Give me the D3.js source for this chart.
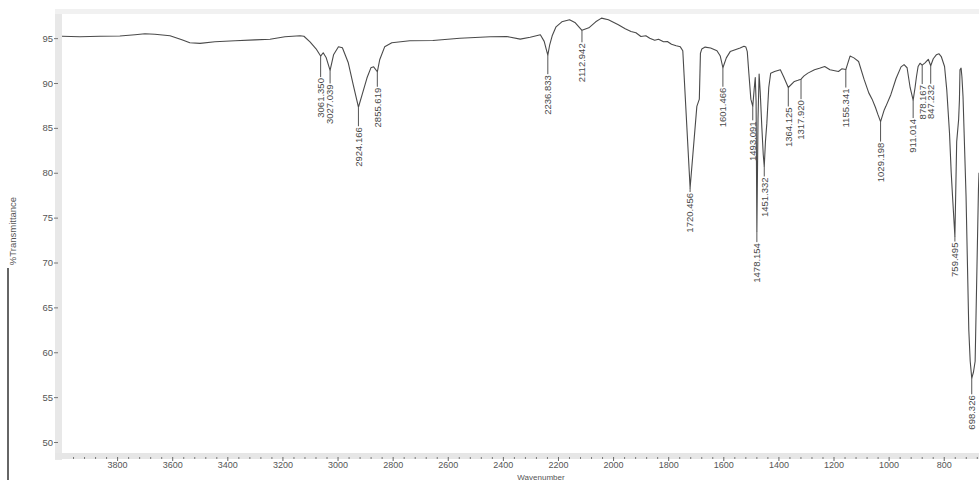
<!DOCTYPE html>
<html>
<head>
<meta charset="utf-8">
<script src="https://cdn.jsdelivr.net/npm/d3@7"></script>
<style>
  body { margin: 0; background: #fff; }
  svg { display: block; font-family: "Liberation Sans", Arial, sans-serif; }
</style>
</head>
<body>
<svg id="chart" width="979" height="480"></svg>
<script>
// spectrum, wavenumber (cm-1) and %T
var wavenumber = [4000, 3935, 3862, 3790, 3735, 3699, 3663, 3608, 3565, 3536, 3499, 3445, 3372, 3300, 3245, 3191, 3136, 3122, 3100, 3078,
    3061.35, 3052, 3041, 3027.039, 3014.5, 2996.7, 2982.4, 2961, 2943, 2924.166, 2911, 2893, 2879, 2869, 2855.619, 2847, 2829, 2803,
    2738, 2654, 2556, 2446, 2386, 2337, 2301, 2264, 2250, 2242, 2236.833, 2230, 2221, 2207, 2186, 2158, 2137, 2112.942, 2088, 2063,
    2042, 2017, 1999, 1981, 1956, 1935, 1917, 1899, 1881, 1867, 1849, 1835, 1817, 1803, 1788, 1771, 1756, 1747, 1720.456, 1696, 1687,
    1683, 1678, 1666, 1646, 1623, 1611, 1601.466, 1589, 1575, 1557, 1539, 1525, 1518, 1513, 1507, 1500, 1493.091, 1488, 1484, 1481,
    1478.154, 1474, 1470, 1466, 1460, 1455, 1451.332, 1447, 1442, 1435, 1428, 1414, 1393, 1381, 1364.125, 1342, 1329, 1317.92, 1307,
    1293, 1269, 1251, 1232, 1213, 1182, 1170, 1155.341, 1140, 1126, 1109, 1089, 1072, 1060, 1048, 1039, 1029.198, 1016, 1010, 992,
    973, 955, 944, 933, 922, 911.014, 904, 899, 893, 886, 878.167, 868, 856, 847.232, 838, 827, 817, 809, 797, 789, 779, 773, 768,
    759.495, 753, 746, 743, 741, 737, 734, 730, 719, 709, 704, 698.326, 692, 686, 674, 672]
var transmittance = [95.21, 95.15, 95.21, 95.23, 95.37, 95.48, 95.43, 95.26, 94.81, 94.48, 94.42, 94.59, 94.70, 94.81, 94.87, 95.15, 95.26, 95.21, 94.59, 93.81,
    93.0, 93.37, 92.81, 91.4, 93.14, 94.03, 93.92, 92.25, 89.8, 87.3, 88.68, 90.58, 91.69, 91.8, 91.25, 92.59, 94.03, 94.48,
    94.70, 94.74, 94.98, 95.15, 95.18, 94.89, 95.09, 95.37, 94.64, 93.7, 93.1, 94.26, 95.26, 96.26, 96.82, 97.04, 96.71, 95.87, 96.15, 96.82,
    97.23, 97.04, 96.77, 96.49, 96.04, 95.74, 95.6, 95.18, 95.26, 94.98, 94.76, 94.87, 94.59, 94.62, 94.31, 94.15, 94.03, 93.59, 78.3, 87.4, 88.2,
    93.3, 93.8, 94.0, 93.9, 93.6, 93.0, 91.7, 92.8, 93.5, 93.7, 93.9, 94.1, 94.0, 93.5, 91.0, 88.2, 87.4, 89.3, 90.6, 88.0,
    73.5, 86.0, 91.0, 89.0, 85.0, 82.0, 80.7, 83.5, 85.5, 89.5, 91.1, 91.28, 91.47, 90.7, 89.5, 90.17, 90.3, 90.43, 90.8,
    91.1, 91.47, 91.64, 91.84, 91.47, 91.28, 91.58, 91.5, 93.0, 92.8, 92.4, 90.4, 88.9, 88.2, 87.3, 86.5, 85.7, 87.0, 87.4, 88.7,
    90.5, 91.8, 92.05, 91.7, 89.5, 88.1, 89.5, 90.7, 91.84, 92.2, 92.0, 92.25, 92.64, 91.92, 92.7, 93.14, 93.25, 92.95, 91.84, 89.24, 84.41, 80.1, 77.35,
    72.89, 83.44, 85.9, 88.13, 91.47, 91.66, 90.69, 88.49, 77.35, 62.49, 59.03, 57.1, 57.8, 59.0, 78.1, 80.0]

var peakWavenumber = [3061.35, 3027.039, 2924.166, 2855.619, 2236.833, 2112.942, 1720.456, 1601.466, 1493.091, 1478.154,
    1451.332, 1364.125, 1317.92, 1155.341, 1029.198, 911.014, 878.167, 847.232, 759.495, 698.326]
var peakLabel = ["3061.350", "3027.039", "2924.166", "2855.619", "2236.833", "2112.942", "1720.456", "1601.466", "1493.091", "1478.154",
    "1451.332", "1364.125", "1317.920", "1155.341", "1029.198", "911.014", "878.167", "847.232", "759.495", "698.326"]

var yTicks = [95, 90, 85, 80, 75, 70, 65, 60, 55, 50]
var xTicks = [3800, 3600, 3400, 3200, 3000, 2800, 2600, 2400, 2200, 2000, 1800, 1600, 1400, 1200, 1000, 800]

// gap (px) between the peak and the top of its label
var labelGap = [22, 14, 20, 16, 20, 13, 5, 20, 15, 12, 11, 20, 21, 19, 21, 19, 20, 19, 6, 17]

var svg = d3.select("#chart")
var x = d3.scaleLinear().domain([4000, 672]).range([62, 979]),
    y = d3.scaleLinear().domain([48.33, 97.8]).range([457, 13])

var ink = "#4a4a4a"

// scanner shadows round the frame
svg.append("rect").attr("x", 55).attr("y", 10).attr("width", 7).attr("height", 450).attr("fill", "#e8e8e8")
svg.append("rect").attr("x", 55).attr("y", 9).attr("width", 924).attr("height", 5).attr("fill", "#f1f1f1")
svg.append("rect").attr("x", 55).attr("y", 453).attr("width", 924).attr("height", 6).attr("fill", "#e6e6e6")
svg.append("line").attr("x1", 8).attr("x2", 8).attr("y1", 268).attr("y2", 480)
    .attr("stroke", "#333").attr("stroke-width", 1.5)

// y axis
var yAxis = svg.append("g")
    .attr("transform", "translate(58,0)")
    .call(d3.axisLeft(y).tickValues(yTicks).tickSize(4).tickPadding(1))
yAxis.select(".domain").remove()
yAxis.selectAll("line").attr("stroke", "#777")
yAxis.selectAll("text").attr("fill", "#555").attr("font-size", 9.5).attr("font-family", "Liberation Sans, Arial")

// x axis, major + minor ticks
var minor = d3.range(3960, 670, -40).filter(v => v % 200 !== 0)
var xMinor = svg.append("g")
    .attr("transform", "translate(0,457)")
    .call(d3.axisBottom(x).tickValues(minor).tickSize(2).tickFormat(""))
xMinor.select(".domain").remove()
xMinor.selectAll("line").attr("stroke", "#777")

var xAxis = svg.append("g")
    .attr("transform", "translate(0,457)")
    .call(d3.axisBottom(x).tickValues(xTicks).tickSize(4).tickPadding(1).tickFormat(d3.format("d")))
xAxis.select(".domain").remove()
xAxis.selectAll("line").attr("stroke", "#666")
xAxis.selectAll("text").attr("fill", "#555").attr("font-size", 9).attr("font-family", "Liberation Sans, Arial")

svg.append("text")
    .attr("x", 541).attr("y", 479.5)
    .attr("text-anchor", "middle")
    .attr("font-size", 8).attr("fill", "#555")
    .text("Wavenumber")

svg.append("text")
    .attr("transform", "translate(16,231) rotate(-90)")
    .attr("text-anchor", "middle")
    .attr("font-size", 9.5).attr("fill", "#555")
    .text("%Transmittance")

// spectrum
var points = wavenumber.map((w, i) => ({ w: w, t: transmittance[i] }))
var line = d3.line()
    .x(d => x(d.w))
    .y(d => y(d.t))

svg.append("path")
    .datum(points)
    .attr("fill", "none")
    .attr("stroke", ink)
    .attr("stroke-width", 1.1)
    .attr("stroke-linejoin", "round")
    .attr("d", line)

// peak picks
var peaks = peakWavenumber.map((w, i) => {
    var j = wavenumber.indexOf(w)
    return { w: w, t: transmittance[j], label: peakLabel[i], gap: labelGap[i] }
})

var pk = svg.append("g").selectAll("g")
    .data(peaks)
    .enter()
    .append("g")

pk.append("line")
    .attr("x1", d => x(d.w)).attr("x2", d => x(d.w))
    .attr("y1", d => y(d.t)).attr("y2", d => y(d.t) + d.gap - 1)
    .attr("stroke", "#555").attr("stroke-width", 1)

pk.append("text")
    .attr("transform", d => "translate(" + x(d.w) + "," + (y(d.t) + d.gap) + ") rotate(-90)")
    .attr("text-anchor", "end")
    .attr("dy", "0.35em")
    .attr("font-size", 9.5)
    .attr("fill", "#4a4a4a")
    .text(d => d.label)
</script>
</body>
</html>
